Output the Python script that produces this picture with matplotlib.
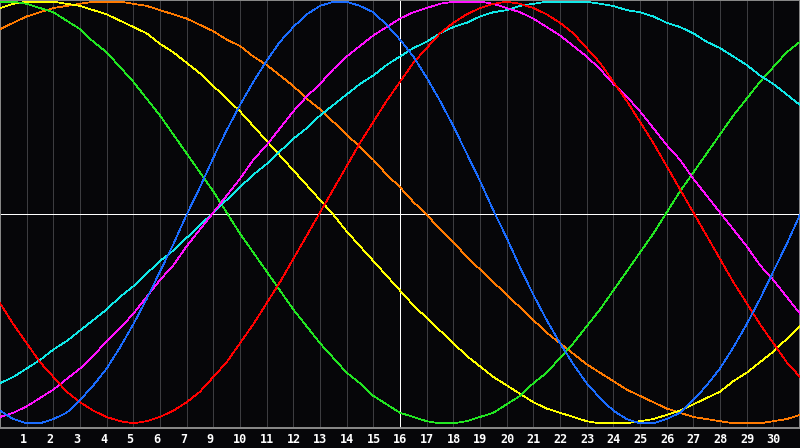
import numpy as np
import matplotlib
matplotlib.use("Agg")
import matplotlib.pyplot as plt
import matplotlib.transforms as mtransforms

# x positions (grid units, half-day steps 0..30)
x_start, x_stop, x_step = 0.0, 30.0, 0.5

# day labels shown under grid lines 1..29 (the reference skips "8")
day_labels = ["1", "2", "3", "4", "5", "6", "7", "9", "10", "11", "12", "13", "14", "15",
              "16", "17", "18", "19", "20", "21", "22", "23", "24", "25", "26", "27", "28",
              "29", "30"]

# curve values (percent) at every half grid unit
blue = [-94, -98, -100, -100, -98, -95, -89, -82, -74, -64, -53, -41, -28, -15, -1, 12, 26, 39,
        51, 62, 72, 81, 88, 94, 98, 100, 100, 98, 95, 89, 82, 74, 64, 53, 41, 28, 15, 1, -12,
        -26, -39, -51, -62, -72, -81, -88, -94, -98, -100, -100, -98, -95, -89, -82, -74, -64,
        -53, -41, -28, -15, -1]
red = [-43, -53, -62, -71, -78, -85, -90, -94, -97, -99, -100, -99, -97, -94, -90, -85, -78,
       -71, -62, -53, -43, -33, -22, -11, 0, 11, 22, 33, 43, 53, 62, 71, 78, 85, 90, 94, 97, 99,
       100, 99, 97, 94, 90, 85, 78, 71, 62, 53, 43, 33, 22, 11, 0, -11, -22, -33, -43, -53, -62,
       -71, -78]
green = [100, 100, 99, 97, 95, 91, 87, 81, 76, 69, 62, 54, 46, 37, 28, 19, 10, 0, -10, -19, -28,
         -37, -46, -54, -62, -69, -76, -81, -87, -91, -95, -97, -99, -100, -100, -99, -97, -95,
         -91, -87, -81, -76, -69, -62, -54, -46, -37, -28, -19, -10, 0, 10, 19, 28, 37, 46, 54,
         62, 69, 76, 81]
yellow = [97, 99, 100, 100, 100, 99, 98, 96, 94, 91, 88, 85, 80, 76, 71, 66, 60, 54, 48, 41, 34,
          27, 20, 13, 6, -1, -9, -16, -23, -30, -37, -44, -50, -56, -62, -68, -73, -78, -82, -86,
          -90, -93, -95, -97, -99, -100, -100, -100, -99, -98, -96, -94, -91, -88, -85, -80, -76,
          -71, -66, -60, -54]
orange = [87, 90, 93, 95, 97, 98, 99, 100, 100, 100, 99, 98, 96, 94, 92, 89, 86, 82, 79, 74, 70,
          65, 60, 54, 49, 43, 37, 31, 25, 18, 12, 5, -1, -8, -14, -21, -27, -33, -39, -45, -51,
          -57, -62, -67, -72, -76, -80, -84, -87, -90, -93, -95, -97, -98, -99, -100, -100, -100,
          -99, -98, -96]
magenta = [-97, -95, -92, -88, -84, -79, -74, -68, -61, -55, -48, -40, -32, -25, -16, -8, 0, 8,
           16, 25, 32, 40, 48, 55, 61, 68, 74, 79, 84, 88, 92, 95, 97, 99, 100, 100, 100, 99, 97,
           95, 92, 88, 84, 79, 74, 68, 61, 55, 48, 40, 32, 25, 16, 8, 0, -8, -16, -25, -32, -40,
           -48]
cyan = [-81, -78, -74, -70, -65, -61, -56, -51, -46, -40, -35, -29, -23, -18, -12, -6, 0, 6, 12,
        18, 23, 29, 35, 40, 46, 51, 56, 61, 65, 70, 74, 78, 81, 85, 88, 90, 93, 95, 96, 98, 99,
        100, 100, 100, 100, 99, 98, 96, 95, 93, 90, 88, 85, 81, 78, 74, 70, 65, 61, 56, 51]

series = [
    (orange, "#ff7a00"),
    (yellow, "#ffff00"),
    (green, "#22e622"),
    (cyan, "#10e8e8"),
    (magenta, "#ff10ff"),
    (red, "#ff0000"),
    (blue, "#1a6cff"),
]

BG = "#060609"
W, H = 800, 448
plot_h = 428

fig = plt.figure(figsize=(W / 100, H / 100), dpi=100, facecolor=BG)
ax = fig.add_axes([0, (H - plot_h) / H, 1, plot_h / H], facecolor=BG)

xs = np.arange(x_start, x_stop + x_step / 2, x_step)
ax.set_xlim(0, 30)
# value v maps to pixel row 212.5 - 2.108*v inside the 428 px plot area
amp_px = 2.108
center_px = 212.5
ax.set_ylim((center_px - plot_h) / amp_px, center_px / amp_px)

lw = 0.5
# vertical day grid
for k in range(1, 30):
    ax.axvline(k, color="#3c3c40", lw=lw, antialiased=False, zorder=1)
# today marker & zero line
ax.axvline(15, color="#ffffff", lw=lw, antialiased=False, zorder=2)
ax.axhline(-0.7, color="#ffffff", lw=lw, antialiased=False, zorder=2)

for vals, col in series:
    ax.plot(xs, vals, color=col, lw=lw, antialiased=False, zorder=3)

for s in ax.spines.values():
    s.set_color("#8a8a8a")
    s.set_linewidth(1.4)
ax.set_xticks([])
ax.set_yticks([])

trans = mtransforms.blended_transform_factory(ax.transData, fig.transFigure)
for i, lab in enumerate(day_labels, start=1):
    ax.text(i - 0.25, (H - 439.5) / H, lab, transform=trans, ha="left", va="center",
            color="white", fontsize=8.5, fontweight="bold", family="DejaVu Sans Mono",
            clip_on=False)

fig.savefig("out.png", dpi=100, facecolor=BG)
